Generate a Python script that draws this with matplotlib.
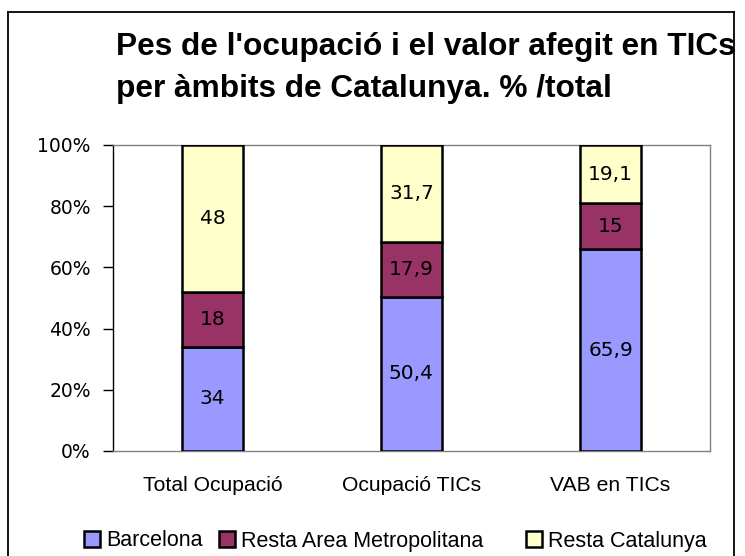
import matplotlib
matplotlib.use("Agg")
import matplotlib.pyplot as plt
from matplotlib.lines import Line2D
from matplotlib.patches import Patch

categories = ["Total Ocupació", "Ocupació TICs", "VAB en TICs"]
series_names = ["Barcelona", "Resta Area Metropolitana", "Resta Catalunya"]
barcelona = [34, 50.4, 65.9]
resta_am = [18, 17.9, 15]
resta_cat = [48, 31.7, 19.1]
yticks = [0, 20, 40, 60, 80, 100]
title_lines = ["Pes de l'ocupació i el valor afegit en TICs", "per àmbits de Catalunya. % /total"]

colors = ["#9999FF", "#993366", "#FFFFCC"]
W, H = 745, 556
fig = plt.figure(figsize=(W / 100, H / 100), dpi=100)
ax = fig.add_axes([113 / W, 1 - 451 / H, (710 - 113) / W, (451 - 145) / H])

series = [barcelona, resta_am, resta_cat]
x = list(range(len(categories)))
bottom = [0] * len(categories)
for vals, col in zip(series, colors):
    tot = [b + v for b, v in zip(bottom, vals)]
    ax.bar(x, vals, bottom=bottom, width=0.31, color=col, edgecolor="black", linewidth=1.8, zorder=3)
    for xi, b, v in zip(x, bottom, vals):
        lab = ("%g" % v).replace(".", ",")
        ax.text(xi, b + v / 2, lab, ha="center", va="center", fontsize=14.5,
                family="DejaVu Sans", color="black", zorder=4)
    bottom = tot

ax.set_xlim(-0.5, len(categories) - 0.5)
ax.set_ylim(0, 100)
ax.set_yticks(yticks)
ax.set_yticklabels(["%d%%" % t for t in yticks], fontsize=13.5, family="DejaVu Sans")
ax.set_xticks(x)
ax.set_xticklabels(categories, fontsize=15.2, family="Liberation Sans")
ax.tick_params(axis="x", length=0, pad=18)
ax.tick_params(axis="y", length=7, direction="out", width=1, pad=9)
for s in ["top", "right", "bottom"]:
    ax.spines[s].set_color("#808080")
    ax.spines[s].set_linewidth(1)
ax.spines["left"].set_color("black")
ax.spines["left"].set_linewidth(1)

# figure border
lw = 1.3
top_y = 1 - 12 / H
fig.add_artist(Line2D([8 / W, 8 / W], [0, top_y], transform=fig.transFigure, color="black", lw=lw))
fig.add_artist(Line2D([8 / W, 734 / W], [top_y, top_y], transform=fig.transFigure, color="black", lw=lw))
fig.add_artist(Line2D([734 / W, 734 / W], [0, top_y], transform=fig.transFigure, color="black", lw=lw))

for line, base in zip(title_lines, [55, 97]):
    fig.text(116 / W, 1 - base / H, line, ha="left", va="baseline", fontsize=22.8,
             fontweight="bold", family="Liberation Sans")

# legend entries
leg_x = [84, 219, 526]
for name, col, lx in zip(series_names, colors, leg_x):
    h = Patch(facecolor=col, edgecolor="black", linewidth=1.8)
    fig.legend([h], [name], loc="center left", bbox_to_anchor=(lx / W, 1 - 541 / H),
               frameon=False, handlelength=0.73, handleheight=0.73, handletextpad=0.3,
               borderpad=0, borderaxespad=0, prop={"family": "Liberation Sans", "size": 15.5})

fig.savefig("out.png", dpi=100)
